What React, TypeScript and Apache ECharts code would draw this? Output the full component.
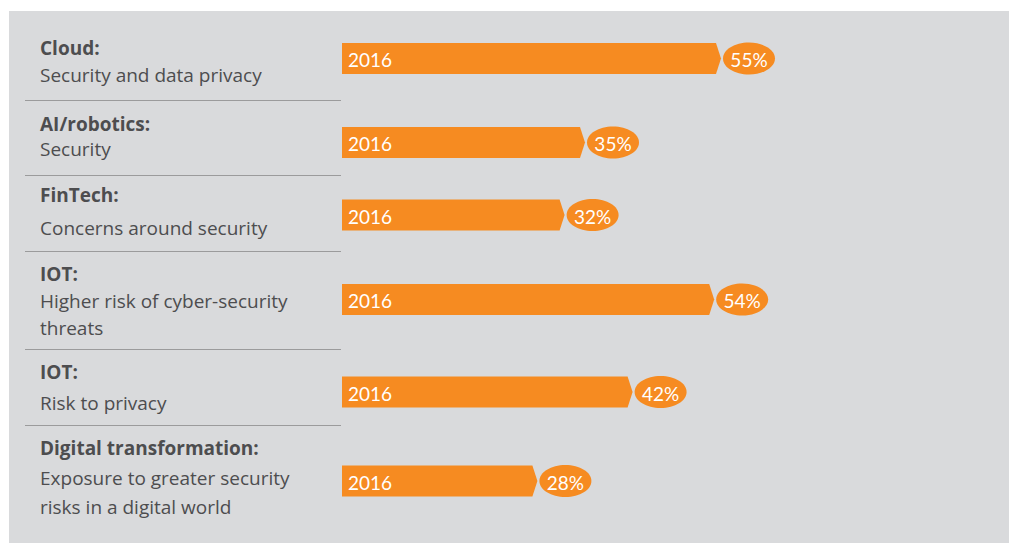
import React, { useEffect, useRef } from "react";
import * as echarts from "echarts";

// ---- data ----
const rowTitles = ["Cloud:", "AI/robotics:", "FinTech:", "IOT:", "IOT:", "Digital transformation:"];
const rowSubtitles = [
  ["Security and data privacy"],
  ["Security"],
  ["Concerns around security"],
  ["Higher risk of cyber-security", "threats"],
  ["Risk to privacy"],
  ["Exposure to greater security", "risks in a digital world"],
];
const yearLabel = "2016";
const values = [55, 35, 32, 54, 42, 28];

// ---- layout (not data) ----
const barCenters = [58.5, 142.5, 215, 299.5, 392, 481];
const titleY = [48, 124, 195, 274, 372, 447.5];
const subY = [[75], [149], [228], [301, 327.5], [402.5], [478, 506.5]];
const sepY = [100, 175, 251, 349, 425];

const ORANGE = "#F68B21";
const TEXT = "#4d4d4f";
const FONT = "Lato, 'Open Sans', sans-serif";
const LABEL_FONT = "'Open Sans', Lato, sans-serif";

export default function App() {
  const ref = useRef<HTMLDivElement>(null);
  useEffect(() => {
    if (!ref.current) return;
    const chart = echarts.init(ref.current, null, { renderer: "svg" });

    const grids = values.map((_, i) => ({
      left: 342,
      width: 612,
      top: barCenters[i] - 20,
      height: 40,
    }));
    const xAxes = values.map((_, i) => ({
      type: "value",
      gridIndex: i,
      min: 0,
      max: 90,
      show: false,
    }));
    const yAxes = values.map((_, i) => ({
      type: "category",
      gridIndex: i,
      data: [rowTitles[i]],
      show: false,
    }));

    const renderItem = (params: any, api: any) => {
      const v = api.value(0);
      const start = api.coord([0, 0]);
      const end = api.coord([v, 0]);
      const h = 31;
      const cy = start[1];
      const x0 = start[0];
      const x1 = end[0];
      const tip = 5;
      const rx = 26;
      const ry = 16;
      const ecx = x1 + tip + 2 + rx;
      return {
        type: "group",
        children: [
          {
            type: "polygon",
            shape: {
              points: [
                [x0, cy - h / 2],
                [x1, cy - h / 2],
                [x1 + tip, cy],
                [x1, cy + h / 2],
                [x0, cy + h / 2],
              ],
            },
            style: { fill: ORANGE },
          },
          {
            type: "ellipse",
            shape: { cx: ecx, cy: cy, rx: rx, ry: ry },
            style: { fill: ORANGE },
          },
          {
            type: "text",
            style: {
              text: yearLabel,
              x: x0 + 6,
              y: cy + 1,
              fill: "#ffffff",
              font: `19px ${FONT}`,
              align: "left",
              textAlign: "left",
              verticalAlign: "middle",
              textVerticalAlign: "middle",
            },
          },
          {
            type: "text",
            style: {
              text: `${v}%`,
              x: ecx,
              y: cy + 1,
              fill: "#ffffff",
              font: `19px ${FONT}`,
              align: "center",
              textAlign: "center",
              verticalAlign: "middle",
              textVerticalAlign: "middle",
            },
          },
        ],
      };
    };

    const series = values.map((v, i) => ({
      type: "custom",
      xAxisIndex: i,
      yAxisIndex: i,
      renderItem,
      data: [[v, 0]],
      silent: true,
    }));

    const graphics: any[] = [
      {
        type: "rect",
        shape: { x: 9, y: 11, width: 1000, height: 532 },
        style: { fill: "#d9dadc" },
        z: -10,
      },
    ];
    sepY.forEach((y) => {
      graphics.push({
        type: "line",
        shape: { x1: 25, y1: y + 0.5, x2: 341, y2: y + 0.5 },
        style: { stroke: "#9b9b9c", lineWidth: 1.2 },
      });
    });
    rowTitles.forEach((t, i) => {
      graphics.push({
        type: "text",
        x: 40,
        y: titleY[i],
        style: {
          text: t,
          fill: TEXT,
          font: `bold 19px ${LABEL_FONT}`,
          textVerticalAlign: "middle",
          verticalAlign: "middle",
        },
      });
      rowSubtitles[i].forEach((s, j) => {
        graphics.push({
          type: "text",
          x: 40,
          y: subY[i][j],
          style: {
            text: s,
            fill: TEXT,
            font: `19px ${LABEL_FONT}`,
            textVerticalAlign: "middle",
            verticalAlign: "middle",
          },
        });
      });
    });

    chart.setOption({
      animation: false,
      backgroundColor: "#ffffff",
      grid: grids,
      xAxis: xAxes,
      yAxis: yAxes,
      series,
      graphic: graphics,
    });
    return () => chart.dispose();
  }, []);

  return (
    <div
      ref={ref}
      style={{ position: "fixed", left: 0, top: 0, width: 1009, height: 543 }}
    />
  );
}
